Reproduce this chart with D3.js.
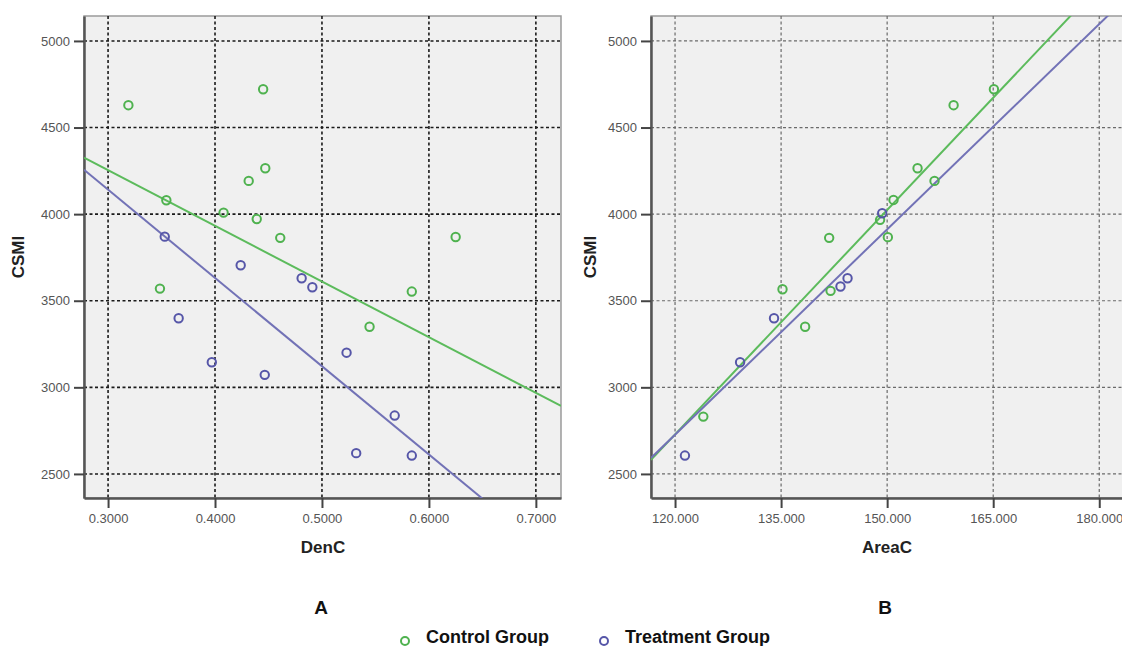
<!DOCTYPE html>
<html>
<head>
<meta charset="utf-8">
<script src="https://cdn.jsdelivr.net/npm/d3@7"></script>
<style>
  body { margin: 0; background: #fff; }
  svg { font-family: "Liberation Sans", Arial, sans-serif; }
</style>
</head>
<body>
<div id="chart"></div>
<script>
// panel A: DenC vs CSMI
const denC_control = [0.319, 0.445, 0.447, 0.4315, 0.3545, 0.408, 0.439, 0.461, 0.3485, 0.625, 0.584, 0.5445];
const csmiA_control = [4629, 4721, 4265, 4192, 4080, 4009, 3972, 3863, 3570, 3868, 3553, 3350];
const denC_treat = [0.353, 0.424, 0.481, 0.491, 0.366, 0.397, 0.4465, 0.523, 0.568, 0.532, 0.584];
const csmiA_treat = [3870, 3705, 3630, 3578, 3399, 3145, 3072, 3200, 2837, 2620, 2606];

// panel B: AreaC vs CSMI
const areaC_control = [141.8, 135.2, 142.0, 165.1, 159.4, 154.3, 156.7, 150.9, 149.0, 150.1, 138.4, 124.0];
const csmiB_control = [3863, 3566, 3557, 4721, 4629, 4265, 4192, 4082, 3967, 3867, 3350, 2831];
const areaC_treat = [143.4, 144.4, 134.0, 129.2, 121.4, 149.3];
const csmiB_treat = [3582, 3630, 3399, 3145, 2606, 4005];

// fit lines [intercept, slope]
const fitA_control = [5217, -3212];
const fitA_treat = [5670, -5096];
const fitB_control = [-2456, 43.2];
const fitB_treat = [-2016, 39.52];

const xTicksA = [0.3, 0.4, 0.5, 0.6, 0.7];
const xTicksB = [120, 135, 150, 165, 180];
const yTicks = [2500, 3000, 3500, 4000, 4500, 5000];
const groups = ["Control Group", "Treatment Group"];

const green = "#4fb24f", greenLine = "#5cbb5c";
const purple = "#5656a8", purpleLine = "#7272b6";

const svg = d3.select("#chart").append("svg")
    .attr("width", 1122)
    .attr("height", 646);

const drawPanel = (opt) => {
    const x = d3.scaleLinear().domain(opt.xDomain).range([opt.left, opt.right]);
    const y = d3.scaleLinear().domain([2361, 5144]).range([498, 16]);
    const g = svg.append("g");

    g.append("clipPath").attr("id", opt.id)
        .append("rect")
        .attr("x", opt.left).attr("y", 16)
        .attr("width", opt.right - opt.left).attr("height", 482);

    g.append("rect")
        .attr("x", opt.left).attr("y", 16)
        .attr("width", opt.right - opt.left).attr("height", 482)
        .attr("fill", "#f0f0f0")
        .attr("stroke", "#9a9a9a")
        .attr("stroke-width", 1.5);

    // grid
    g.selectAll(".gx").data(opt.xTicks).enter().append("line")
        .attr("x1", d => x(d)).attr("x2", d => x(d))
        .attr("y1", 16).attr("y2", 498)
        .attr("stroke", opt.gridColor).attr("stroke-width", opt.gridWidth)
        .attr("stroke-dasharray", "3,2.5");
    g.selectAll(".gy").data(yTicks).enter().append("line")
        .attr("x1", opt.left).attr("x2", opt.right)
        .attr("y1", d => y(d)).attr("y2", d => y(d))
        .attr("stroke", opt.gridColor).attr("stroke-width", opt.gridWidth)
        .attr("stroke-dasharray", "3,2.5");

    // axes
    const yAxis = g.append("g")
        .attr("transform", `translate(${opt.left},0)`)
        .call(d3.axisLeft(y).tickValues(yTicks).tickSize(10).tickSizeOuter(0).tickPadding(4).tickFormat(d3.format("d")));
    const xAxis = g.append("g")
        .attr("transform", `translate(0,498)`)
        .call(d3.axisBottom(x).tickValues(opt.xTicks).tickSize(10).tickSizeOuter(0).tickPadding(6).tickFormat(opt.fmt));
    [xAxis, yAxis].forEach(a => {
        a.select(".domain").attr("stroke", "#555").attr("stroke-width", 2.5);
        a.selectAll(".tick line").attr("stroke", "#444").attr("stroke-width", 2);
        a.selectAll(".tick text").attr("fill", "#555").attr("font-size", 13)
            .attr("font-family", "Liberation Sans, Arial, sans-serif");
    });

    // fit lines
    const plot = g.append("g").attr("clip-path", `url(#${opt.id})`);
    const line = d3.line().x(d => x(d[0])).y(d => y(d[1]));
    opt.fits.forEach((f, i) => {
        const pts = opt.xDomain.map(v => [v, f[0] + f[1] * v]);
        plot.append("path").datum(pts)
            .attr("fill", "none")
            .attr("stroke", i === 0 ? greenLine : purpleLine)
            .attr("stroke-width", 2)
            .attr("d", line);
    });

    // points
    opt.series.forEach((s, i) => {
        plot.selectAll(null).data(d3.zip(s[0], s[1])).enter().append("circle")
            .attr("cx", d => x(d[0])).attr("cy", d => y(d[1]))
            .attr("r", 4.2)
            .attr("fill", "none")
            .attr("stroke", i === 0 ? green : purple)
            .attr("stroke-width", 2);
    });

    // labels
    g.append("text")
        .attr("transform", `translate(${opt.yLabelX},257) rotate(-90)`)
        .attr("text-anchor", "middle").attr("dy", "0.35em")
        .attr("font-size", 17).attr("font-weight", "bold").attr("fill", "#222")
        .text("CSMI");
    g.append("text")
        .attr("x", opt.xLabelX).attr("y", 553)
        .attr("text-anchor", "middle")
        .attr("font-size", 17).attr("font-weight", "bold").attr("fill", "#222")
        .text(opt.xLabel);
    g.append("text")
        .attr("x", opt.xLabelX - 2).attr("y", 614)
        .attr("text-anchor", "middle")
        .attr("font-size", 19).attr("font-weight", "bold").attr("fill", "#111")
        .text(opt.letter);
};

drawPanel({
    id: "clipA", left: 84, right: 561, xDomain: [0.2775, 0.7235],
    xTicks: xTicksA, fmt: d3.format(".4f"),
    gridColor: "#1a1a1a", gridWidth: 1.6,
    fits: [fitA_control, fitA_treat],
    series: [[denC_control, csmiA_control], [denC_treat, csmiA_treat]],
    yLabelX: 18, xLabelX: 323, xLabel: "DenC", letter: "A"
});

drawPanel({
    id: "clipB", left: 651, right: 1124, xDomain: [116.6, 183.5],
    xTicks: xTicksB, fmt: d3.format(".3f"),
    gridColor: "#6a6a6a", gridWidth: 1.2,
    fits: [fitB_control, fitB_treat],
    series: [[areaC_control, csmiB_control], [areaC_treat, csmiB_treat]],
    yLabelX: 590, xLabelX: 887, xLabel: "AreaC", letter: "B"
});

// legend
const legend = svg.append("g");
const legendX = [405, 604];
groups.forEach((name, i) => {
    legend.append("circle")
        .attr("cx", legendX[i]).attr("cy", 641)
        .attr("r", 4).attr("fill", "none")
        .attr("stroke", i === 0 ? green : purple).attr("stroke-width", 2);
    legend.append("text")
        .attr("x", legendX[i] + 21).attr("y", 643)
        .attr("font-size", 18).attr("font-weight", "bold").attr("fill", "#111")
        .text(name);
});
</script>
</body>
</html>
